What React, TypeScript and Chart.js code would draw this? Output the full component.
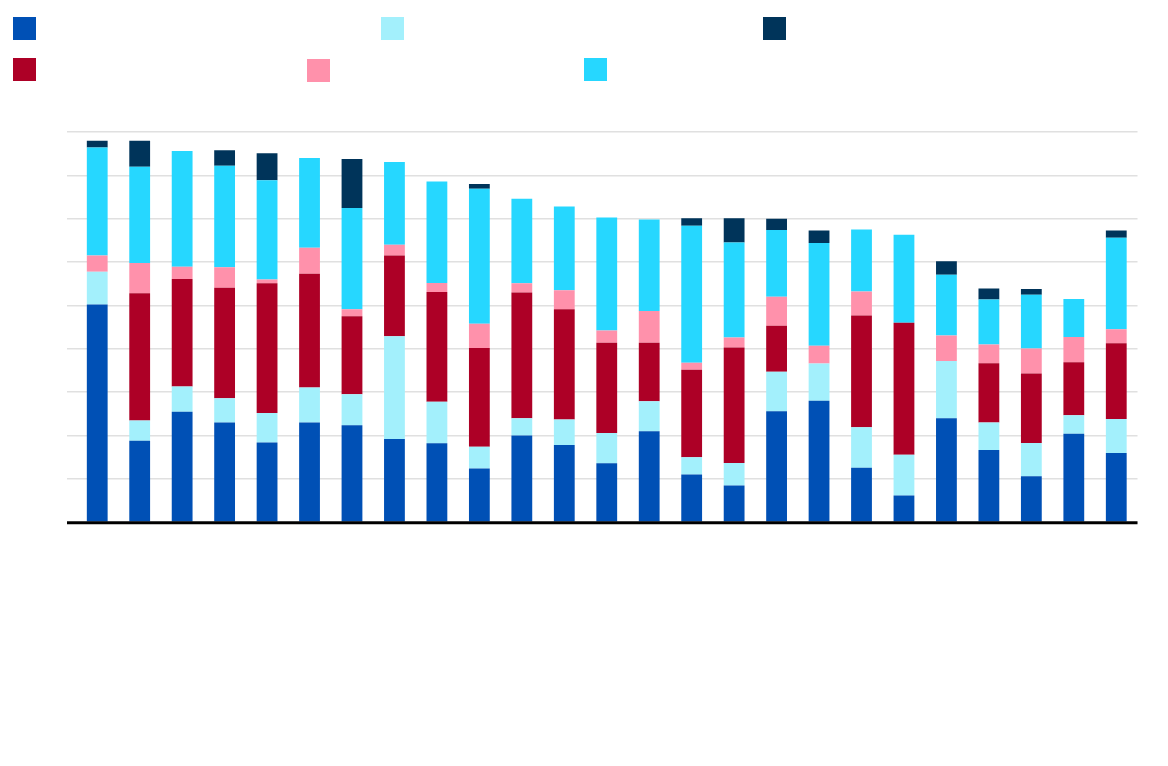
import { useEffect, useRef } from 'react';
import { Chart, registerables } from 'chart.js';
import type { Plugin } from 'chart.js';

Chart.register(...registerables);

// 25 categories, no visible axis labels in the source picture
const categories = Array.from({ length: 25 }, (_, i) => `C${i + 1}`);

// stacked segments, bottom to top
const blueValues = [50.2, 18.8, 25.5, 23.0, 18.4, 23.0, 22.4, 19.2, 18.2, 12.4, 20.0, 17.8, 13.6, 21.0, 11.0, 8.5, 25.6, 28.0, 12.6, 6.2, 24.0, 16.7, 10.6, 20.4, 16.0];
const lightCyanValues = [7.6, 4.7, 5.8, 5.6, 6.8, 8.1, 7.1, 23.7, 9.6, 5.0, 4.0, 5.9, 7.0, 6.9, 4.0, 5.2, 9.1, 8.6, 9.3, 9.4, 13.2, 6.3, 7.7, 4.3, 7.8];
const crimsonValues = [0, 29.3, 24.8, 25.5, 29.9, 26.2, 18.0, 18.6, 25.3, 22.8, 29.0, 25.4, 20.8, 13.5, 20.2, 26.6, 10.6, 0, 25.8, 30.4, 0, 13.7, 16.0, 12.2, 17.5];
const pinkValues = [3.7, 7.0, 2.8, 4.7, 0.9, 6.0, 1.6, 2.5, 2.1, 5.6, 2.1, 4.4, 2.8, 7.3, 1.6, 2.3, 6.7, 4.1, 5.5, 0, 5.9, 4.3, 5.8, 5.8, 3.2];
const cyanValues = [24.9, 22.2, 26.7, 23.4, 22.9, 20.7, 23.4, 19.1, 23.4, 31.1, 19.5, 19.3, 26.1, 21.1, 31.6, 21.9, 15.4, 23.7, 14.3, 20.3, 14.0, 10.4, 12.4, 8.8, 21.1];
const navyValues = [1.6, 6.0, 0, 3.6, 6.2, 0, 11.3, 0, 0, 1.1, 0, 0, 0, 0, 1.7, 5.6, 2.6, 2.9, 0, 0, 3.1, 2.5, 1.3, 0, 1.7];

const yMin = 0;
const yMax = 90;
const yStep = 10;

const series = [
	{ key: 'blue', values: blueValues, color: '#0050b5' },
	{ key: 'lightCyan', values: lightCyanValues, color: '#a3f0fc' },
	{ key: 'crimson', values: crimsonValues, color: '#ad0026' },
	{ key: 'pink', values: pinkValues, color: '#ff91ab' },
	{ key: 'cyan', values: cyanValues, color: '#26d7ff' },
	{ key: 'navy', values: navyValues, color: '#00345a' }
];

// legend boxes (no label text in the source)
const legendBoxes = [
	{ key: 'blue', left: 13, top: 17 },
	{ key: 'lightCyan', left: 381, top: 17 },
	{ key: 'navy', left: 763, top: 17 },
	{ key: 'crimson', left: 13, top: 58 },
	{ key: 'pink', left: 307, top: 59 },
	{ key: 'cyan', left: 584, top: 58 }
];

const TICK_LEN = 9;

const baseline: Plugin<'bar'> = {
	id: 'baseline',
	afterDatasetsDraw(chart) {
		const { ctx, chartArea } = chart;
		ctx.save();
		ctx.strokeStyle = '#000000';
		ctx.lineWidth = 3;
		ctx.beginPath();
		ctx.moveTo(chartArea.left - TICK_LEN, chartArea.bottom + 0.5);
		ctx.lineTo(chartArea.right, chartArea.bottom + 0.5);
		ctx.stroke();
		ctx.restore();
	}
};

export default function App() {
	const canvasRef = useRef<HTMLCanvasElement | null>(null);
	const chartRef = useRef<Chart<'bar'> | null>(null);

	useEffect(() => {
		document.body.style.margin = '0';
		if (!canvasRef.current) return;
		if (chartRef.current) chartRef.current.destroy();

		chartRef.current = new Chart(canvasRef.current, {
			type: 'bar',
			data: {
				labels: categories,
				datasets: series.map((s) => ({
					label: s.key,
					data: s.values,
					backgroundColor: s.color,
					borderWidth: 0,
					barPercentage: 0.49,
					categoryPercentage: 1
				}))
			},
			options: {
				responsive: true,
				maintainAspectRatio: false,
				animation: false,
				layout: { padding: { left: 67, right: 30.5, top: 132, bottom: 243.7 } },
				plugins: {
					legend: { display: false },
					tooltip: { enabled: false },
					title: { display: false }
				},
				scales: {
					x: {
						stacked: true,
						grid: { display: false, drawTicks: false },
						ticks: { display: false },
						border: { display: false }
					},
					y: {
						stacked: true,
						min: yMin,
						max: yMax,
						ticks: { display: false, stepSize: yStep },
						grid: { color: '#e0e0e0', lineWidth: 1.5, drawTicks: true, tickLength: TICK_LEN },
						border: { display: false }
					}
				}
			},
			plugins: [baseline]
		});

		return () => {
			chartRef.current?.destroy();
			chartRef.current = null;
		};
	}, []);

	const colorOf = (key: string) => series.find((s) => s.key === key)?.color;

	return (
		<div style={{ position: 'relative', width: 1168, height: 766, background: '#ffffff' }}>
			{legendBoxes.map((b) => (
				<div
					key={b.key}
					style={{
						position: 'absolute',
						left: b.left,
						top: b.top,
						width: 23,
						height: 23,
						background: colorOf(b.key)
					}}
				/>
			))}
			<canvas ref={canvasRef} />
		</div>
	);
}
